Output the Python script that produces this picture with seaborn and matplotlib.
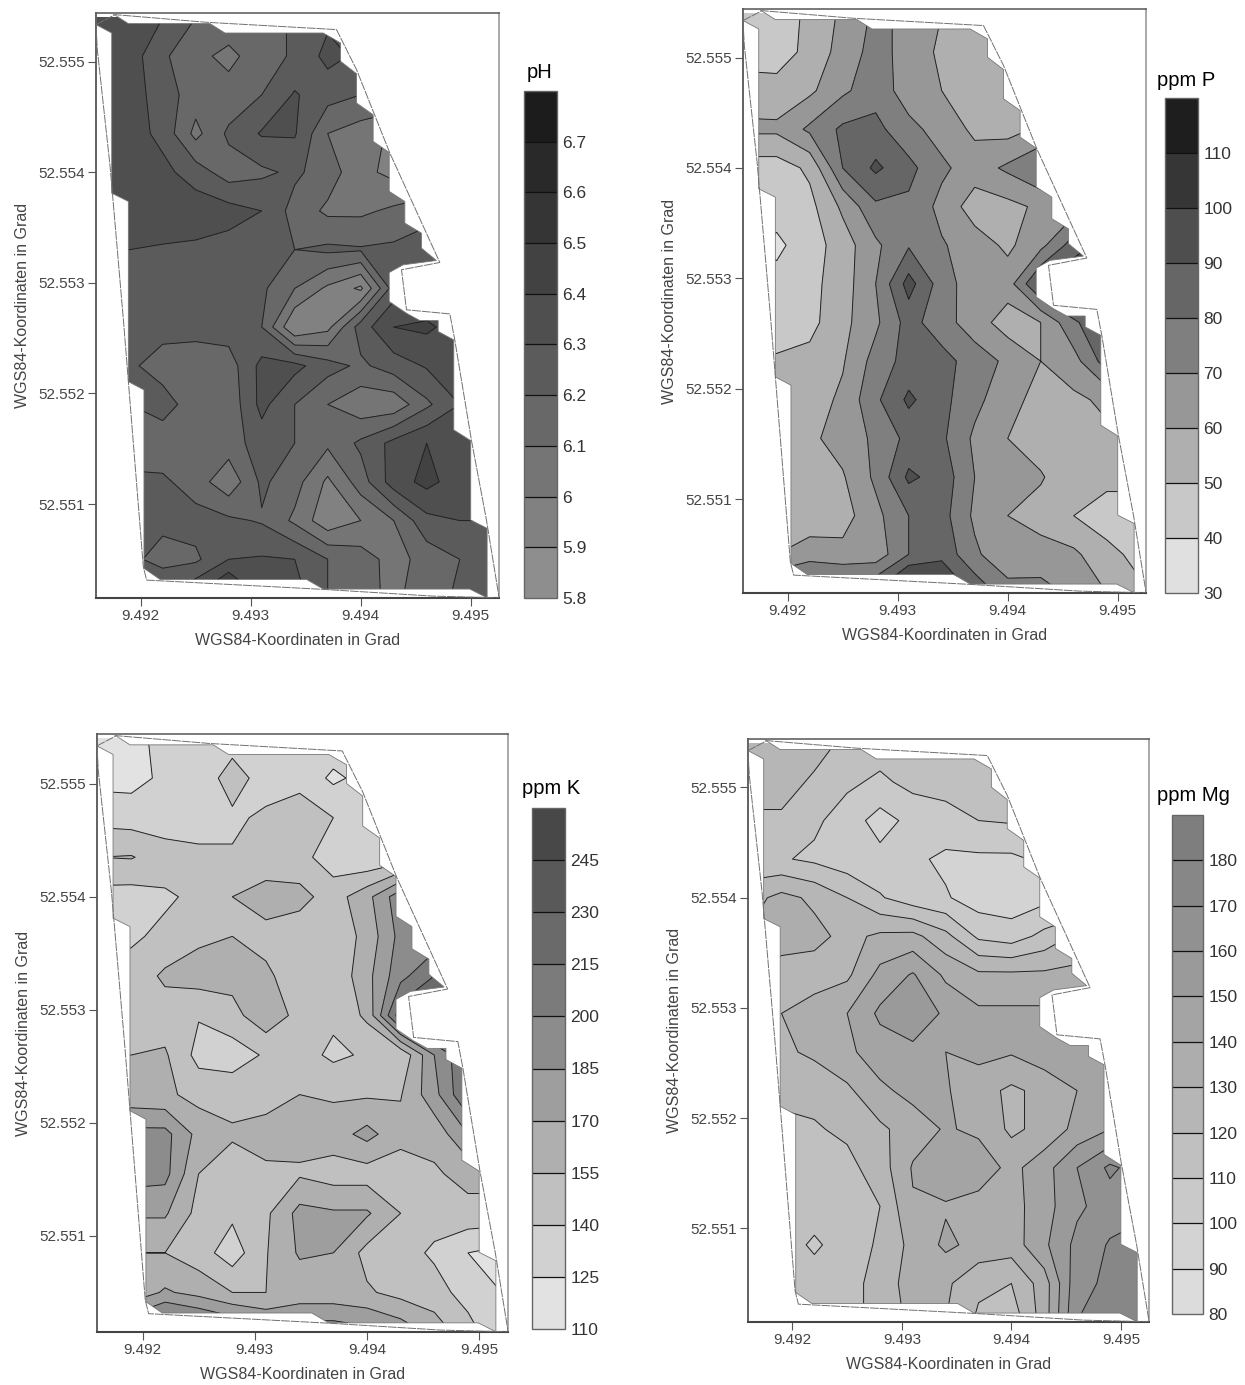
import numpy as np
import matplotlib
matplotlib.use("Agg")
import matplotlib.pyplot as plt
from matplotlib.colors import ListedColormap
from matplotlib.patches import Polygon
import seaborn as sns

# grid of the sampled field, in 1/1000 degree above 9.490 E / 52.550 N
LON_GRID = [1.6, 1.9, 2.2, 2.5, 2.8, 3.1, 3.4, 3.7, 4.0, 4.3, 4.6, 4.9, 5.2]
LAT_GRID = [5.4, 5.05, 4.7, 4.35, 4.0, 3.65, 3.3, 2.95, 2.6, 2.25, 1.9, 1.55, 1.2, 0.85, 0.5, 0.15]

# cell outline of the interpolated raster
FIELD_LON = [1.594, 1.737, 1.888, 2.630, 2.766, 3.659, 3.817, 3.817, 3.962, 3.962, 4.113, 4.113, 4.259, 4.259,
             4.401, 4.401, 4.552, 4.552, 4.688, 4.386, 4.259, 4.259, 4.416, 4.537, 4.704, 4.704, 4.846, 4.846,
             5.000, 5.000, 5.149, 5.149, 4.991, 3.659, 3.508, 2.176, 2.030, 2.030, 1.888, 1.888, 1.737, 1.737, 1.594]
FIELD_LAT = [5.440, 5.440, 5.344, 5.344, 5.259, 5.259, 5.169, 5.003, 4.891, 4.626, 4.520, 4.279, 4.179, 3.827,
             3.736, 3.540, 3.449, 3.314, 3.202, 3.163, 3.093, 2.831, 2.725, 2.659, 2.659, 2.560, 2.484, 1.670,
             1.573, 0.855, 0.780, 0.152, 0.231, 0.231, 0.318, 0.318, 0.418, 2.032, 2.107, 3.736, 3.811, 5.259, 5.335]

# surveyed field border
BORDER_LON = [1.594, 1.767, 2.599, 3.780, 3.962, 4.265, 4.719, 4.371, 4.416, 4.810, 4.855, 5.006, 5.143, 5.258,
              4.658, 3.659, 2.054, 2.024, 1.843, 1.722, 1.606]
BORDER_LAT = [5.335, 5.425, 5.356, 5.290, 4.928, 4.173, 3.184, 3.118, 2.756, 2.719, 2.484, 1.579, 0.855, 0.152,
              0.167, 0.228, 0.312, 0.433, 2.665, 4.053, 5.109]

PH = [
    [6.35, 6.35, 6.30, 6.20, 6.15, 6.14, 6.22, 6.28, 6.25, 6.25, 6.25, 6.25, 6.25],
    [6.35, 6.35, 6.22, 6.12, 6.08, 6.14, 6.22, 6.33, 6.28, 6.25, 6.25, 6.25, 6.25],
    [6.35, 6.35, 6.25, 6.15, 6.13, 6.20, 6.31, 6.24, 6.20, 6.20, 6.20, 6.20, 6.20],
    [6.35, 6.35, 6.27, 6.07, 6.22, 6.31, 6.31, 6.10, 6.05, 5.98, 6.00, 6.00, 6.00],
    [6.38, 6.38, 6.33, 6.25, 6.15, 6.18, 6.22, 6.15, 6.03, 5.97, 6.00, 6.05, 6.05],
    [6.38, 6.38, 6.36, 6.36, 6.34, 6.30, 6.16, 6.08, 6.08, 6.12, 6.15, 6.15, 6.15],
    [6.30, 6.30, 6.29, 6.28, 6.26, 6.24, 6.20, 6.22, 6.21, 6.22, 6.27, 6.27, 6.27],
    [6.26, 6.26, 6.27, 6.28, 6.29, 6.22, 6.10, 5.98, 5.88, 6.25, 6.30, 6.30, 6.30],
    [6.25, 6.25, 6.24, 6.23, 6.25, 6.20, 5.90, 5.97, 6.25, 6.40, 6.42, 6.35, 6.35],
    [6.22, 6.22, 6.15, 6.15, 6.15, 6.33, 6.33, 6.24, 6.18, 6.25, 6.31, 6.35, 6.35],
    [6.20, 6.20, 6.25, 6.14, 6.13, 6.33, 6.20, 6.10, 6.03, 6.03, 6.18, 6.30, 6.30],
    [6.15, 6.15, 6.13, 6.13, 6.15, 6.25, 6.20, 6.12, 6.22, 6.33, 6.40, 6.35, 6.35],
    [6.22, 6.22, 6.22, 6.15, 6.03, 6.22, 6.14, 5.98, 6.15, 6.35, 6.43, 6.35, 6.35],
    [6.25, 6.25, 6.22, 6.24, 6.22, 6.19, 6.08, 5.93, 6.00, 6.10, 6.27, 6.30, 6.30],
    [6.22, 6.22, 6.17, 6.18, 6.30, 6.31, 6.30, 6.20, 6.15, 6.06, 6.14, 6.20, 6.25],
    [6.25, 6.25, 6.30, 6.42, 6.60, 6.40, 6.35, 6.20, 6.13, 6.08, 6.15, 6.22, 6.30],
]
PPM_P = [
    [45, 45, 52, 62, 72, 68, 60, 57, 55, 55, 55, 55, 55],
    [45, 45, 53, 64, 74, 66, 58, 55, 53, 53, 53, 53, 53],
    [55, 54, 58, 68, 76, 65, 60, 55, 56, 60, 60, 60, 60],
    [62, 62, 72, 82, 83, 73, 66, 58, 56, 62, 65, 65, 65],
    [45, 45, 52, 80, 92, 83, 72, 65, 72, 80, 75, 75, 75],
    [45, 44, 47, 62, 78, 78, 67, 55, 57, 62, 65, 65, 65],
    [42, 38, 45, 55, 68, 79, 71, 65, 58, 67, 85, 95, 95],
    [42, 43, 47, 55, 70, 94, 75, 64, 65, 92, 100, 100, 100],
    [42, 42, 47, 57, 68, 84, 74, 65, 55, 60, 78, 90, 90],
    [52, 52, 53, 59, 74, 84, 84, 75, 68, 60, 66, 85, 85],
    [55, 55, 55, 62, 78, 92, 83, 73, 63, 57, 58, 62, 62],
    [55, 55, 58, 64, 72, 83, 82, 68, 60, 55, 53, 58, 58],
    [55, 55, 57, 59, 72, 92, 86, 70, 63, 61, 53, 53, 53],
    [53, 53, 54, 56, 67, 80, 84, 68, 60, 56, 50, 45, 45],
    [60, 60, 65, 63, 64, 80, 87, 72, 62, 64, 62, 53, 47],
    [85, 85, 92, 90, 92, 115, 105, 88, 75, 74, 68, 60, 52],
]
PPM_K = [
    [120, 120, 130, 133, 135, 135, 135, 135, 135, 135, 135, 135, 135],
    [120, 120, 128, 133, 145, 135, 135, 122, 130, 130, 130, 130, 130],
    [135, 133, 132, 132, 138, 142, 148, 140, 130, 130, 130, 130, 130],
    [155, 156, 147, 144, 141, 145, 145, 132, 126, 130, 130, 130, 130],
    [134, 133, 138, 143, 155, 162, 160, 148, 165, 195, 195, 195, 195],
    [130, 138, 143, 152, 155, 150, 146, 144, 160, 190, 190, 190, 190],
    [145, 145, 158, 162, 160, 158, 146, 143, 165, 195, 215, 240, 240],
    [145, 145, 147, 141, 150, 165, 150, 143, 158, 225, 240, 240, 240],
    [155, 155, 157, 135, 132, 142, 146, 137, 142, 142, 185, 215, 215],
    [160, 160, 158, 150, 150, 153, 155, 153, 153, 154, 180, 215, 215],
    [190, 190, 190, 165, 157, 157, 160, 163, 175, 160, 160, 185, 185],
    [192, 192, 190, 155, 147, 154, 153, 148, 148, 147, 153, 160, 160],
    [172, 172, 172, 150, 143, 152, 175, 172, 172, 155, 145, 150, 150],
    [155, 155, 155, 147, 132, 154, 172, 170, 150, 145, 138, 125, 120],
    [160, 160, 172, 165, 155, 155, 160, 160, 157, 150, 145, 135, 125],
    [205, 205, 225, 215, 205, 190, 195, 195, 190, 180, 165, 145, 130],
]
PPM_MG = [
    [125, 125, 125, 117, 115, 115, 115, 115, 115, 115, 115, 115, 115],
    [125, 125, 118, 112, 108, 113, 114, 116, 116, 116, 116, 116, 116],
    [118, 118, 112, 105, 96, 103, 106, 110, 111, 112, 112, 112, 112],
    [113, 111, 108, 104, 103, 102, 98, 98, 98, 102, 102, 102, 102],
    [126, 133, 128, 120, 111, 104, 101, 95, 94, 97, 97, 97, 97],
    [131, 133, 133, 127, 132, 133, 123, 108, 105, 113, 122, 122, 122],
    [130, 127, 125, 128, 143, 151, 138, 132, 132, 132, 133, 133, 133],
    [130, 130, 135, 140, 152, 158, 148, 142, 142, 142, 142, 142, 142],
    [128, 128, 132, 138, 145, 147, 140, 143, 141, 146, 143, 143, 143],
    [122, 122, 123, 128, 138, 143, 141, 134, 128, 133, 140, 143, 143],
    [118, 118, 119, 122, 128, 135, 141, 138, 128, 133, 143, 150, 150],
    [115, 115, 115, 117, 125, 141, 147, 146, 137, 146, 160, 172, 165],
    [113, 113, 113, 113, 120, 139, 139, 136, 136, 146, 158, 165, 165],
    [113, 113, 109, 113, 122, 133, 142, 137, 135, 148, 163, 171, 178],
    [113, 113, 113, 115, 125, 134, 132, 122, 120, 135, 167, 172, 176],
    [110, 110, 112, 115, 125, 132, 130, 118, 113, 135, 170, 178, 180],
]

LEVELS_PH = [5.8, 5.9, 6.0, 6.1, 6.2, 6.3, 6.4, 6.5, 6.6, 6.7, 6.8]
LEVELS_P = [30, 40, 50, 60, 70, 80, 90, 100, 110, 120]
LEVELS_K = [110, 125, 140, 155, 170, 185, 200, 215, 230, 245, 260]
LEVELS_MG = [80, 90, 100, 110, 120, 130, 140, 150, 160, 170, 180, 190]

W, H = 1245, 1385


def rect(left, top, right, bottom):
    return [left / W, 1 - bottom / H, (right - left) / W, (bottom - top) / H]


def draw_panel(fig, box, cbox, values, levels, light, dark, title, title_xy):
    ax = fig.add_axes(rect(*box))
    lon = 9.49 + np.array(LON_GRID) / 1000
    lat = 52.55 + np.array(LAT_GRID) / 1000
    z = np.array(values, dtype=float)
    pal = sns.blend_palette([light, dark], len(levels) - 1)
    cmap = ListedColormap(pal)

    outline = np.column_stack([9.49 + np.array(FIELD_LON) / 1000, 52.55 + np.array(FIELD_LAT) / 1000])
    field = Polygon(outline, closed=True, fill=False, ec="#777777", lw=0.6, zorder=3)
    ax.add_patch(field)

    cf = ax.contourf(lon, lat, z, levels=levels, cmap=cmap)
    cl = ax.contour(lon, lat, z, levels=levels, colors="#222222", linewidths=0.7)
    cf.set_clip_path(field)
    cl.set_clip_path(field)

    ax.plot(9.49 + np.array(BORDER_LON + BORDER_LON[:1]) / 1000,
            52.55 + np.array(BORDER_LAT + BORDER_LAT[:1]) / 1000,
            color="#707070", lw=0.7, ls=(0, (9, 1)), zorder=4)

    ax.set_xlim(9.491594, 9.495257)
    ax.set_ylim(52.55015, 52.55544)
    ax.set_xticks([9.492, 9.493, 9.494, 9.495])
    ax.set_xticklabels(["9.492", "9.493", "9.494", "9.495"])
    ax.set_yticks([52.551, 52.552, 52.553, 52.554, 52.555])
    ax.set_yticklabels(["52.551", "52.552", "52.553", "52.554", "52.555"])
    ax.tick_params(axis="both", length=6, width=0.8, color="#555555", labelsize=11, labelcolor="#444444", pad=2,
                   bottom=True, left=True)
    ax.set_xlabel("WGS84-Koordinaten in Grad", fontsize=11.5, color="#444444", labelpad=7)
    ax.set_ylabel("WGS84-Koordinaten in Grad", fontsize=11.5, color="#444444", labelpad=6)
    for side, col, lw in [("top", "#555555", 1.1), ("left", "#555555", 1.3),
                          ("bottom", "#444444", 1.5), ("right", "#999999", 1.2)]:
        ax.spines[side].set_visible(True)
        ax.spines[side].set_color(col)
        ax.spines[side].set_linewidth(lw)

    cax = fig.add_axes(rect(*cbox))
    cbar = fig.colorbar(cf, cax=cax, ticks=levels[:-1], drawedges=True)
    cbar.dividers.set_color("#111111")
    cbar.dividers.set_linewidth(0.9)
    cbar.outline.set_edgecolor("#666666")
    cbar.outline.set_linewidth(1.0)
    cbar.ax.set_yticklabels([f"{v:g}" for v in levels[:-1]])
    cbar.ax.tick_params(length=0, labelsize=12.5, labelcolor="#333333", pad=4)

    fig.text(title_xy[0] / W, 1 - title_xy[1] / H, title, fontsize=14.5, color="black", ha="center", va="center")
    return ax


sns.set_theme(style="white")
plt.rcParams["font.family"] = ["Liberation Sans", "DejaVu Sans"]

fig = plt.figure(figsize=(W / 100, H / 100), dpi=100, facecolor="white")

draw_panel(fig, (96, 13, 499, 598), (524, 91, 557, 598), PH, LEVELS_PH, "#8e8e8e", "#1c1c1c", "pH", (540, 72))
draw_panel(fig, (743, 9, 1146, 593), (1165, 98, 1198, 593), PPM_P, LEVELS_P, "#e0e0e0", "#1e1e1e", "ppm P", (1186, 80))
draw_panel(fig, (97, 734, 508, 1332), (532, 808, 565, 1329), PPM_K, LEVELS_K, "#e2e2e2", "#484848", "ppm K", (551, 789))
draw_panel(fig, (748, 739, 1149, 1322), (1172, 815, 1203, 1314), PPM_MG, LEVELS_MG, "#dcdcdc", "#7e7e7e", "ppm Mg", (1193, 796))

fig.savefig("out.png", dpi=100, facecolor="white")
